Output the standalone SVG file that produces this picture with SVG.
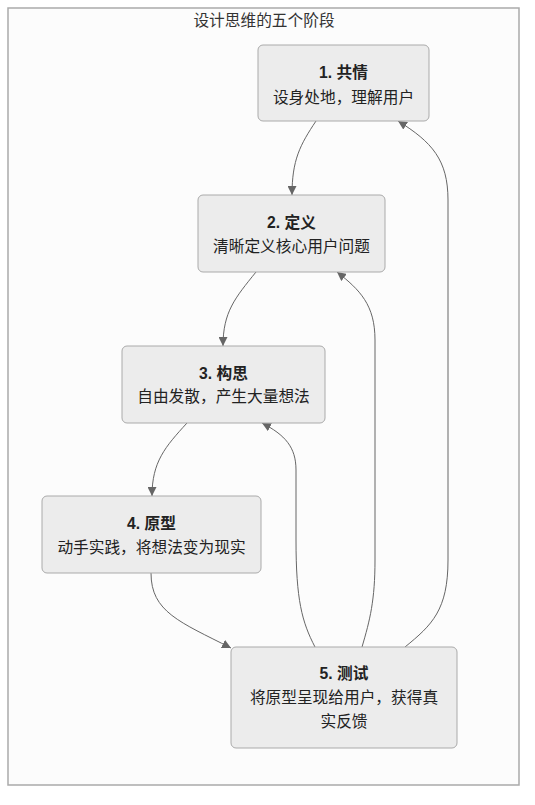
<svg xmlns="http://www.w3.org/2000/svg" width="535" height="805" viewBox="0 0 535 805">
<defs>
<marker id="arrow" viewBox="0 0 10 10" refX="10" refY="5" markerUnits="userSpaceOnUse" markerWidth="9" markerHeight="9" orient="auto">
<path d="M0,0 L10,5 L0,10 z" fill="#666"/>
</marker>
<style>
.frame{fill:#fcfcfc;stroke:#aaa;stroke-width:1.5}
.node rect{fill:#ececec;stroke:#aaa;stroke-width:1}
.t{font-family:"Liberation Sans","Noto Sans CJK SC",sans-serif;font-size:15.7px;fill:#222;text-anchor:middle}
.b{font-weight:bold}
.title{font-family:"Liberation Sans","Noto Sans CJK SC",sans-serif;font-size:15.7px;fill:#333;text-anchor:middle}
.edge{fill:none;stroke:#666;stroke-width:1;marker-end:url(#arrow)}
</style>
</defs>
<rect width="535" height="805" fill="#ffffff"/>
<rect class="frame" x="8" y="8" width="511" height="777"/>
<text class="title" x="264" y="25.5">设计思维的五个阶段</text>
<g id="edges">
<path class="edge" d="M316,121 C300,145 292,160 292,195"/>
<path class="edge" d="M256,272 C235,298 223,312 223,346"/>
<path class="edge" d="M187,423 C165,447 152,462 152,496"/>
<path class="edge" d="M151,573 C151,612 180,622 231,648"/>
<path class="edge" d="M315,647 C302,622 296,600 296,540 L296,470 C296,447 285,435 262,423"/>
<path class="edge" d="M362,647 C370,620 375,600 375,560 L375,340 C375,305 360,290 337,272"/>
<path class="edge" d="M405,647 C432,625 448,610 448,560 L448,200 C448,160 432,142 398,121"/>
</g>
<g id="node1" class="node">
<rect x="258" y="45" width="171" height="76" rx="5"/>
<text class="t b" x="343.5" y="77.5">1. 共情</text>
<text class="t" x="343.5" y="102.5">设身处地，理解用户</text>
</g>
<g id="node2" class="node">
<rect x="198" y="195" width="187" height="77" rx="5"/>
<text class="t b" x="291.5" y="227.5">2. 定义</text>
<text class="t" x="291.5" y="251.5">清晰定义核心用户问题</text>
</g>
<g id="node3" class="node">
<rect x="122" y="346" width="203" height="77" rx="5"/>
<text class="t b" x="223.5" y="378.5">3. 构思</text>
<text class="t" x="223.5" y="401.5">自由发散，产生大量想法</text>
</g>
<g id="node4" class="node">
<rect x="42" y="496" width="219" height="77" rx="5"/>
<text class="t b" x="151.5" y="528.5">4. 原型</text>
<text class="t" x="151.5" y="552.5">动手实践，将想法变为现实</text>
</g>
<g id="node5" class="node">
<rect x="231" y="647" width="226" height="101" rx="5"/>
<text class="t b" x="344" y="678.5">5. 测试</text>
<text class="t" x="344" y="702.5">将原型呈现给用户，获得真</text>
<text class="t" x="344" y="726.5">实反馈</text>
</g>
</svg>
